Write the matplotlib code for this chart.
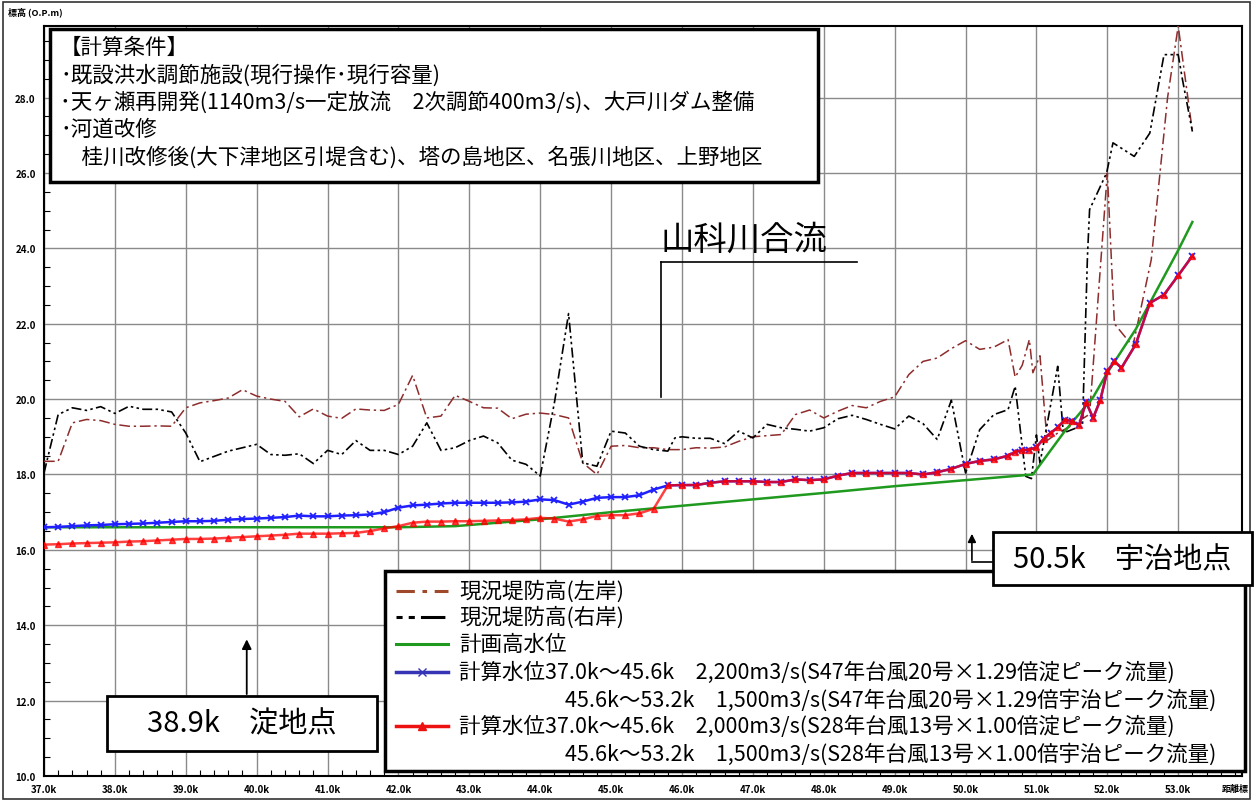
import matplotlib
matplotlib.use('Agg')
import matplotlib.pyplot as plt
import numpy as np
from matplotlib.patches import Rectangle
from matplotlib.lines import Line2D

plt.rcParams['font.family'] = ['Noto Sans CJK JP', 'DejaVu Sans']

# ---- data (km, O.P.m) ----
left_km = [37.0, 37.2, 37.4, 37.6, 37.8, 38.0, 38.2, 38.4, 38.6, 38.8, 39.0, 39.2, 39.4, 39.6, 39.8,
           40.0, 40.2, 40.4, 40.6, 40.8, 41.0, 41.2, 41.4, 41.6, 41.8, 42.0, 42.2, 42.4, 42.6, 42.8,
           43.0, 43.2, 43.4, 43.6, 43.8, 44.0, 44.2, 44.4, 44.6, 44.8, 45.0, 45.2, 45.4, 45.6, 45.8,
           46.0, 46.2, 46.4, 46.6, 46.8, 47.0, 47.2, 47.4, 47.6, 47.8, 48.0, 48.2, 48.4, 48.6, 48.8,
           49.0, 49.2, 49.4, 49.6, 49.8, 50.0, 50.2, 50.4, 50.6, 50.7, 50.8, 50.9, 50.95, 51.05, 51.15,
           51.3, 51.5, 51.75, 52.0, 52.1, 52.36, 52.62, 52.85, 53.0, 53.2]
left_bank = [18.35, 18.35, 19.37, 19.46, 19.43, 19.33, 19.28, 19.28, 19.29, 19.28, 19.77, 19.90, 19.96, 20.03, 20.25,
             20.08, 20.00, 19.94, 19.53, 19.74, 19.55, 19.49, 19.74, 19.71, 19.70, 19.86, 20.63, 19.50, 19.55, 20.10,
             19.94, 19.77, 19.76, 19.48, 19.60, 19.63, 19.59, 19.50, 18.31, 18.00, 18.75, 18.77, 18.71, 18.71, 18.66,
             18.66, 18.71, 18.70, 18.73, 18.88, 19.00, 19.03, 19.06, 19.59, 19.71, 19.50, 19.68, 19.83, 19.77, 19.94,
             20.06, 20.65, 21.00, 21.09, 21.34, 21.55, 21.32, 21.38, 21.58, 20.58, 20.90, 21.58, 20.70, 21.15, 18.90,
             19.10, 19.30, 19.60, 26.00, 22.00, 21.40, 23.70, 28.00, 29.90, 27.10]

right_km = [37.0, 37.2, 37.4, 37.6, 37.8, 38.0, 38.2, 38.4, 38.6, 38.8, 39.0, 39.2, 39.4, 39.6, 39.8,
            40.0, 40.2, 40.4, 40.6, 40.8, 41.0, 41.2, 41.4, 41.6, 41.8, 42.0, 42.2, 42.4, 42.6, 42.8,
            43.0, 43.2, 43.4, 43.6, 43.8, 44.0, 44.2, 44.4, 44.6, 44.8, 45.0, 45.2, 45.4, 45.6, 45.8,
            45.9, 46.0, 46.2, 46.4, 46.6, 46.8, 47.0, 47.2, 47.4, 47.6, 47.8, 48.0, 48.2, 48.4, 48.6,
            48.8, 49.0, 49.2, 49.4, 49.6, 49.8, 50.0, 50.2, 50.4, 50.6, 50.7, 50.85, 50.93, 51.0, 51.05,
            51.3, 51.38, 51.65, 51.72, 51.75, 51.99, 52.08, 52.38, 52.6, 52.8, 53.0, 53.06, 53.2]
right_bank = [18.04, 19.59, 19.77, 19.70, 19.80, 19.62, 19.81, 19.73, 19.73, 19.66, 19.10, 18.34, 18.48, 18.62, 18.71,
              18.80, 18.53, 18.51, 18.55, 18.29, 18.64, 18.53, 18.90, 18.64, 18.64, 18.53, 18.75, 19.37, 18.64, 18.71,
              18.90, 19.02, 18.84, 18.38, 18.27, 17.96, 19.90, 22.27, 18.31, 18.22, 19.15, 19.10, 18.75, 18.66, 18.62,
              18.97, 19.00, 18.96, 18.96, 18.82, 19.15, 18.97, 19.33, 19.24, 19.20, 19.15, 19.24, 19.48, 19.57, 19.46,
              19.33, 19.21, 19.55, 19.35, 18.93, 19.97, 18.04, 19.19, 19.59, 19.72, 20.34, 17.95, 17.89, 19.05, 18.30,
              20.87, 19.10, 19.30, 23.80, 25.03, 26.00, 26.80, 26.44, 27.06, 29.14, 29.14, 28.48, 27.10]

plan_km = [37.0, 42.0, 42.8, 44.0, 45.0, 46.0, 47.0, 48.0, 49.0, 50.0, 50.95, 51.4, 51.8, 52.0, 52.4, 53.0, 53.2]
plan_hwl = [16.60, 16.60, 16.63, 16.81, 17.00, 17.17, 17.34, 17.51, 17.69, 17.85, 18.00, 19.15, 20.05, 20.70, 21.85, 23.95, 24.70]

# computed water levels, 37.0k-45.6k (different floods)
calc_km_low = [37.0, 37.2, 37.4, 37.6, 37.8, 38.0, 38.2, 38.4, 38.6, 38.8, 39.0, 39.2, 39.4, 39.6, 39.8,
               40.0, 40.2, 40.4, 40.6, 40.8, 41.0, 41.2, 41.4, 41.6, 41.8, 42.0, 42.2, 42.4, 42.6, 42.8,
               43.0, 43.2, 43.4, 43.6, 43.8, 44.0, 44.2, 44.4, 44.6, 44.8, 45.0, 45.2, 45.4, 45.6]
s47_low = [16.60, 16.61, 16.63, 16.65, 16.66, 16.68, 16.69, 16.70, 16.72, 16.74, 16.76, 16.76, 16.77, 16.80, 16.82,
           16.83, 16.85, 16.87, 16.91, 16.89, 16.89, 16.91, 16.92, 16.94, 17.00, 17.12, 17.18, 17.20, 17.23, 17.25,
           17.25, 17.25, 17.25, 17.26, 17.28, 17.34, 17.32, 17.20, 17.28, 17.38, 17.40, 17.40, 17.45, 17.60]
s28_low = [16.14, 16.15, 16.17, 16.18, 16.19, 16.20, 16.22, 16.23, 16.25, 16.27, 16.29, 16.29, 16.30, 16.32, 16.34,
           16.36, 16.38, 16.40, 16.43, 16.43, 16.43, 16.44, 16.45, 16.50, 16.57, 16.63, 16.72, 16.75, 16.75, 16.76,
           16.76, 16.77, 16.78, 16.79, 16.81, 16.85, 16.83, 16.75, 16.81, 16.90, 16.92, 16.92, 16.97, 17.09]
# 45.6k-53.2k, both cases 1,500m3/s
calc_km_up = [45.8, 46.0, 46.2, 46.4, 46.6, 46.8, 47.0, 47.2, 47.4, 47.6, 47.8, 48.0, 48.2, 48.4, 48.6,
              48.8, 49.0, 49.2, 49.4, 49.6, 49.8, 50.0, 50.2, 50.4, 50.6, 50.7, 50.8, 50.9, 51.0, 51.1,
              51.2, 51.3, 51.4, 51.5, 51.6, 51.7, 51.8, 51.9, 52.0, 52.1, 52.2, 52.4, 52.6, 52.8, 53.0, 53.2]
calc_up = [17.71, 17.72, 17.72, 17.78, 17.82, 17.82, 17.82, 17.80, 17.80, 17.87, 17.85, 17.87, 17.97, 18.04, 18.04,
           18.04, 18.04, 18.04, 18.00, 18.06, 18.15, 18.28, 18.36, 18.40, 18.50, 18.60, 18.65, 18.66, 18.72, 18.95,
           19.10, 19.25, 19.45, 19.42, 19.30, 19.92, 19.50, 19.97, 20.74, 21.00, 20.83, 21.45, 22.55, 22.77, 23.28, 23.80]

W, H = 1257, 803


def fx(px):
    return px / W


def fy(py):
    return 1 - py / H


fig = plt.figure(figsize=(W / 100, H / 100), dpi=100)
ax = fig.add_axes([fx(44), fy(777), (1242 - 44) / W, (777 - 27) / H])

# dike heights
ax.plot(left_km, left_bank, color='#8e2c2c', lw=1.1, ls=(0, (7, 2.5, 1.5, 2.5)), zorder=3)
ax.plot(right_km, right_bank, color='black', lw=1.2, ls=(0, (6, 2, 1.5, 2, 1.5, 2)), zorder=3)
# plan high water level
ax.plot(plan_km, plan_hwl, color='#1f9a1f', lw=1.8, zorder=4)
# computed water levels
ax.plot(calc_km_low + calc_km_up, s47_low + calc_up, color='#2020ff', lw=1.8, marker='x', ms=5, mew=1.3, zorder=5)
ax.plot(calc_km_low + calc_km_up, s28_low + calc_up, color='#ff0000', lw=1.8, marker='^', ms=5, alpha=0.75, zorder=6)

ax.set_xlim(37.0, 53.9)
ax.set_ylim(10.0, 29.9)
ax.set_xticks(np.arange(37, 54, 1.0))
ax.set_xticklabels([f'{v:.1f}k' for v in np.arange(37, 54, 1.0)])
ax.set_yticks(np.arange(10, 29, 2.0))
ax.set_yticklabels([f'{v:.1f}' for v in np.arange(10, 29, 2.0)])
ax.set_xticks(np.arange(37, 53.9, 0.2), minor=True)
ax.set_yticks(np.arange(10, 29.9, 0.5), minor=True)
ax.grid(True, which='major', color='#8a8a8a', lw=1.0)
ax.tick_params(which='both', direction='in', labelsize=7)
ax.tick_params(which='major', length=0, pad=6)
ax.tick_params(which='minor', length=4, width=0.8)
for lab in ax.get_xticklabels() + ax.get_yticklabels():
    lab.set_fontweight('bold')
for sp in ax.spines.values():
    sp.set_linewidth(1.5)

# axis labels
fig.text(fx(8), fy(12), '標高 (O.P.m)', fontsize=6.5, fontweight='bold', va='center', ha='left')
fig.text(fx(1222), fy(790), '距離標', fontsize=6.5, fontweight='bold', va='center', ha='left')

# outer frame
fig.patches.append(Rectangle((fx(3), fy(800)), (1250 - 3) / W, (800 - 3) / H, transform=fig.transFigure,
                             fill=False, ec='#333333', lw=1.2))


def fbox(x0, y0, x1, y1, lw=2.5):
    fig.patches.append(Rectangle((fx(x0), fy(y1)), (x1 - x0) / W, (y1 - y0) / H, transform=fig.transFigure,
                                 fc='white', ec='black', lw=lw, zorder=10))


# calculation conditions box
fbox(50, 30, 818, 183)
cond_lines = ['【計算条件】',
              '･既設洪水調節施設(現行操作･現行容量)',
              '･天ヶ瀬再開発(1140m3/s一定放流　2次調節400m3/s)、大戸川ダム整備',
              '･河道改修',
              '　桂川改修後(大下津地区引堤含む)、塔の島地区、名張川地区、上野地区']
for i, t in enumerate(cond_lines):
    fig.text(fx(60), fy(48 + 27.3 * i), t, fontsize=15.5, va='center', ha='left', zorder=11)

# 山科川合流
ax.plot([45.7, 45.7], [20.05, 23.65], color='black', lw=1.2, zorder=7)
ax.plot([45.7, 48.47], [23.65, 23.65], color='black', lw=1.2, zorder=7)
ax.text(46.88, 24.25, '山科川合流', fontsize=24, ha='center', va='center', zorder=7)

# 38.9k 淀地点
ax.annotate('', xy=(39.86, 13.7), xytext=(39.86, 12.1),
            arrowprops=dict(arrowstyle='-|>', color='black', lw=1.3, mutation_scale=14), zorder=9)
fbox(107, 697, 377, 752, lw=2.0)
fig.text(fx(242), fy(724), '38.9k　淀地点', fontsize=21, ha='center', va='center', zorder=11)

# legend box
fbox(385, 572, 1245, 772, lw=2.5)
leg_font = 15.5
leg_items = [
    (592, dict(color='#a0482a', lw=2.2, ls=(0, (6, 2.5, 1.5, 2.5))), '現況堤防高(左岸)'),
    (618, dict(color='black', lw=2.2, ls=(0, (2, 2, 2, 2, 8, 2))), '現況堤防高(右岸)'),
    (645, dict(color='#1f9a1f', lw=2.2), '計画高水位'),
    (673, dict(color='#3535b5', lw=2.5, marker='x', ms=6, markevery=[1]),
     '計算水位37.0k～45.6k　2,200m3/s(S47年台風20号×1.29倍淀ピーク流量)'),
    (727, dict(color='#ee1111', lw=2.5, marker='^', ms=6, markevery=[1]),
     '計算水位37.0k～45.6k　2,000m3/s(S28年台風13号×1.00倍淀ピーク流量)'),
]
for py, style, label in leg_items:
    fig.add_artist(Line2D([fx(396), fx(422), fx(448)], [fy(py)] * 3, transform=fig.transFigure, zorder=12, **style))
    fig.text(fx(459), fy(py), label, fontsize=leg_font, va='center', ha='left', zorder=12)
fig.text(fx(565), fy(701), '45.6k～53.2k　1,500m3/s(S47年台風20号×1.29倍宇治ピーク流量)',
         fontsize=leg_font, va='center', ha='left', zorder=12)
fig.text(fx(565), fy(755), '45.6k～53.2k　1,500m3/s(S28年台風13号×1.00倍宇治ピーク流量)',
         fontsize=leg_font, va='center', ha='left', zorder=12)

# 50.5k 宇治地点
ax.plot([50.09, 50.37], [15.67, 15.67], color='black', lw=1.2, zorder=8)
ax.annotate('', xy=(50.09, 16.5), xytext=(50.09, 15.65),
            arrowprops=dict(arrowstyle='-|>', color='black', lw=1.2, mutation_scale=12), zorder=9)
fbox(993, 533, 1252, 586, lw=2.0)
fig.text(fx(1122), fy(560), '50.5k　宇治地点', fontsize=21, ha='center', va='center', zorder=11)

fig.savefig('out.png', dpi=100)
